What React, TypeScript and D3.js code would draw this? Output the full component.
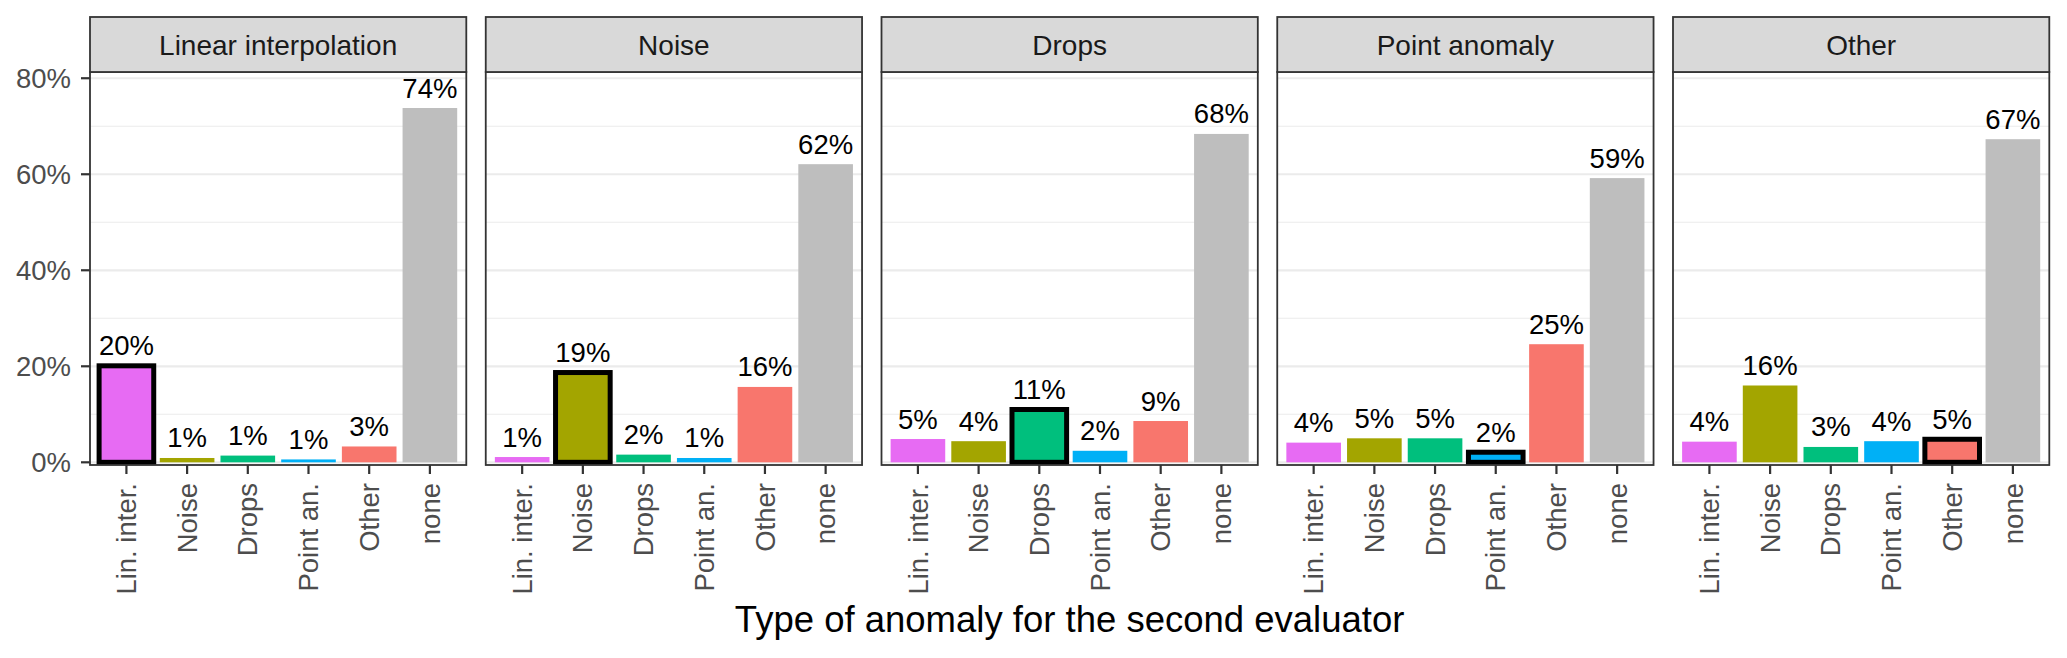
import React, { useEffect, useRef } from 'react';
import * as d3 from 'd3';

const panels = ['Linear interpolation', 'Noise', 'Drops', 'Point anomaly', 'Other'];
const categories = ['Lin. inter.', 'Noise', 'Drops', 'Point an.', 'Other', 'none'];
// category that matches each panel (drawn with the black outline)
const matchingCategory = ['Lin. inter.', 'Noise', 'Drops', 'Point an.', 'Other'];

// percent of cases, one array per panel, in the order of `categories`
const linearValues = [20.1, 0.9, 1.4, 0.6, 3.3, 73.8];
const noiseValues = [1.1, 18.7, 1.6, 0.9, 15.7, 62.1];
const dropsValues = [4.85, 4.4, 11.0, 2.4, 8.6, 68.4];
const pointValues = [4.1, 5.0, 5.0, 2.1, 24.6, 59.2];
const otherValues = [4.3, 16.0, 3.2, 4.4, 4.8, 67.3];
const panelValues = [linearValues, noiseValues, dropsValues, pointValues, otherValues];

const categoryColors = ['#E76BF3', '#A3A500', '#00BF7D', '#00B0F6', '#F8766D', '#BEBEBE'];
const yTicks = [0, 20, 40, 60, 80];
const yMinorTicks = [10, 30, 50, 70];

const FONT = '"Liberation Sans", Arial, Helvetica, sans-serif';

const ChartFacets: React.FC = () => {
  const svgRef = useRef<SVGSVGElement>(null);

  useEffect(() => {
    if (!svgRef.current) return;
    const W = 2067;
    const H = 658;
    const plotLeft = 90;
    const panelW = 376.3;
    const panelStep = 395.75;
    const stripTop = 17;
    const stripBottom = 72;
    const panelBottom = 465;

    d3.select(svgRef.current).selectAll('*').remove();
    const svg = d3.select(svgRef.current)
      .attr('width', W)
      .attr('height', H)
      .style('font-family', FONT);

    svg.append('rect').attr('width', W).attr('height', H).attr('fill', '#fff');

    const y = d3.scaleLinear()
      .domain([-0.56, 81.3])
      .range([panelBottom, stripBottom]);

    const x = d3.scaleBand<string>()
      .domain(categories)
      .range([0, panelW])
      .paddingInner(0.1)
      .paddingOuter(0.15);

    const color = d3.scaleOrdinal<string, string>()
      .domain(categories)
      .range(categoryColors);

    panels.forEach((name, pi) => {
      const g = svg.append('g')
        .attr('transform', `translate(${plotLeft + pi * panelStep},0)`);
      const values = panelValues[pi];
      const rows = categories.map((c, i) => ({ cat: c, value: values[i] }));

      // grid
      g.selectAll('.minor')
        .data(yMinorTicks)
        .enter()
        .append('line')
        .attr('x1', 0).attr('x2', panelW)
        .attr('y1', d => y(d)).attr('y2', d => y(d))
        .attr('stroke', '#EBEBEB')
        .attr('stroke-width', 1.1);

      g.selectAll('.major')
        .data(yTicks)
        .enter()
        .append('line')
        .attr('x1', 0).attr('x2', panelW)
        .attr('y1', d => y(d)).attr('y2', d => y(d))
        .attr('stroke', '#EBEBEB')
        .attr('stroke-width', 2.2);

      // bars
      g.selectAll('.bar')
        .data(rows)
        .enter()
        .append('rect')
        .attr('x', d => x(d.cat)!)
        .attr('width', x.bandwidth())
        .attr('y', d => y(d.value))
        .attr('height', d => y(0) - y(d.value))
        .attr('fill', d => color(d.cat))
        .attr('stroke', d => d.cat === matchingCategory[pi] ? '#000' : 'none')
        .attr('stroke-width', 5);

      // value labels
      g.selectAll('.lab')
        .data(rows)
        .enter()
        .append('text')
        .attr('x', d => x(d.cat)! + x.bandwidth() / 2)
        .attr('y', d => y(d.value) - 10.5)
        .attr('text-anchor', 'middle')
        .style('font-size', '27.5px')
        .attr('fill', '#000')
        .text(d => `${Math.round(d.value)}%`);

      // panel border
      g.append('rect')
        .attr('x', 0).attr('y', stripBottom)
        .attr('width', panelW).attr('height', panelBottom - stripBottom)
        .attr('fill', 'none')
        .attr('stroke', '#333')
        .attr('stroke-width', 1.8);

      // strip
      g.append('rect')
        .attr('x', 0).attr('y', stripTop)
        .attr('width', panelW).attr('height', stripBottom - stripTop)
        .attr('fill', '#D9D9D9')
        .attr('stroke', '#333')
        .attr('stroke-width', 1.8);

      g.append('text')
        .attr('x', panelW / 2)
        .attr('y', (stripTop + stripBottom) / 2)
        .attr('dy', '0.36em')
        .attr('text-anchor', 'middle')
        .style('font-size', '28px')
        .attr('fill', '#1A1A1A')
        .text(name);

      // x axis ticks and labels
      const xAxis = g.append('g').attr('transform', `translate(0,${panelBottom})`);
      xAxis.selectAll('line')
        .data(categories)
        .enter()
        .append('line')
        .attr('x1', d => x(d)! + x.bandwidth() / 2)
        .attr('x2', d => x(d)! + x.bandwidth() / 2)
        .attr('y1', 0).attr('y2', 9)
        .attr('stroke', '#333')
        .attr('stroke-width', 2.2);

      xAxis.selectAll('text')
        .data(categories)
        .enter()
        .append('text')
        .attr('transform', d => `translate(${x(d)! + x.bandwidth() / 2},18) rotate(-90)`)
        .attr('dy', '0.35em')
        .attr('text-anchor', 'end')
        .style('font-size', '27.5px')
        .attr('fill', '#4D4D4D')
        .text(d => d);
    });

    // y axis (left panel only)
    const yAxis = svg.append('g').attr('transform', `translate(${plotLeft},0)`);
    yAxis.selectAll('line')
      .data(yTicks)
      .enter()
      .append('line')
      .attr('x1', -9).attr('x2', 0)
      .attr('y1', d => y(d)).attr('y2', d => y(d))
      .attr('stroke', '#333')
      .attr('stroke-width', 2.2);

    yAxis.selectAll('text')
      .data(yTicks)
      .enter()
      .append('text')
      .attr('x', -19)
      .attr('y', d => y(d))
      .attr('dy', '0.36em')
      .attr('text-anchor', 'end')
      .style('font-size', '27.5px')
      .attr('fill', '#4D4D4D')
      .text(d => `${d}%`);

    // x axis title
    svg.append('text')
      .attr('x', plotLeft + (4 * panelStep + panelW) / 2)
      .attr('y', 632)
      .attr('text-anchor', 'middle')
      .style('font-size', '36.5px')
      .attr('fill', '#000')
      .text('Type of anomaly for the second evaluator');
  }, []);

  return <svg ref={svgRef}></svg>;
};

export default function App() {
  return (
    <>
      <style>{'body{margin:0}'}</style>
      <ChartFacets />
    </>
  );
}
